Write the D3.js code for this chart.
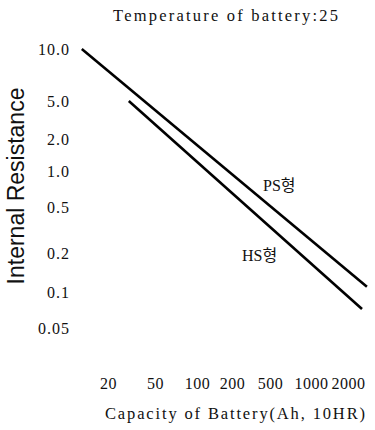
<!DOCTYPE html>
<html>
<head>
<meta charset="utf-8">
<script src="https://cdn.jsdelivr.net/npm/d3@7/dist/d3.min.js"></script>
<style>
  html, body { margin: 0; padding: 0; background: #fff; }
  svg { display: block; }
</style>
</head>
<body>
<svg id="chart" width="375" height="430"></svg>
<script>
// Capacity ticks (Ah, 10HR) and resistance ticks
const capacityTicks = [20, 50, 100, 200, 500, 1000, 2000];
const resistanceTicks = [10, 5, 2, 1, 0.5, 0.2, 0.1, 0.05];
const resistanceLabels = ["10.0", "5.0", "2.0", "1.0", "0.5", "0.2", "0.1", "0.05"];

// Series: endpoints of each straight characteristic line
const psCapacity = [12, 2850];
const psResistance = [10, 0.11];
const hsCapacity = [30, 2600];
const hsResistance = [5, 0.072];

const seriesNames = ["PS형", "HS형"];

const svg = d3.select("#chart");

// The printed scale is a hand-spaced logarithmic grid, so each decade
// segment gets its own span (piecewise log scales).
const x = d3.scaleLog()
  .domain(capacityTicks)
  .range([108, 155, 197, 232, 270, 311, 348]);

const y = d3.scaleLog()
  .domain(resistanceTicks)
  .range([49, 101, 139, 171, 207, 253, 292, 328]);

const serif = "'Liberation Serif', Tinos, 'Times New Roman', 'DejaVu Serif', serif, 'Noto Sans CJK KR'";

// Title (evenly spread serif lettering)
svg.append("text")
  .attr("x", 113).attr("y", 21)
  .attr("textLength", 225)
  .attr("lengthAdjust", "spacing")
  .style("font-family", serif)
  .style("font-size", "16.5px")
  .attr("fill", "#111")
  .text("Temperature of battery:25");

// Y axis (labels only)
const yAxis = svg.append("g")
  .attr("transform", "translate(72,0)")
  .call(d3.axisLeft(y).tickValues(resistanceTicks).tickSize(0).tickPadding(2)
    .tickFormat((d, i) => resistanceLabels[i]));
yAxis.select(".domain").remove();
yAxis.selectAll("text")
  .style("font-family", serif)
  .style("font-size", "16px")
  .style("letter-spacing", "1px")
  .attr("fill", "#111");

// X axis (labels only)
const xAxis = svg.append("g")
  .attr("transform", "translate(0,378)")
  .call(d3.axisBottom(x).tickValues(capacityTicks).tickSize(0).tickPadding(0)
    .tickFormat(d3.format("d")));
xAxis.select(".domain").remove();
xAxis.selectAll("text")
  .style("font-family", serif)
  .style("font-size", "16px")
  .style("letter-spacing", "0.5px")
  .attr("fill", "#111");

// Axis titles
svg.append("text")
  .attr("transform", "translate(24,186) rotate(-90)")
  .attr("text-anchor", "middle")
  .style("font-family", "'Liberation Sans', Arial, sans-serif")
  .style("font-size", "23px")
  .attr("fill", "#111")
  .text("Internal Resistance");

svg.append("text")
  .attr("x", 105).attr("y", 419)
  .attr("textLength", 260)
  .attr("lengthAdjust", "spacing")
  .style("font-family", serif)
  .style("font-size", "16.5px")
  .attr("fill", "#111")
  .text("Capacity of Battery(Ah, 10HR)");

// Lines
const line = d3.line().x(d => x(d[0])).y(d => y(d[1]));
const series = [
  { name: seriesNames[0], pts: d3.zip(psCapacity, psResistance) },
  { name: seriesNames[1], pts: d3.zip(hsCapacity, hsResistance) }
];

svg.selectAll("path.series")
  .data(series)
  .join("path")
  .attr("class", "series")
  .attr("d", d => line(d.pts))
  .attr("fill", "none")
  .attr("stroke", "#000")
  .attr("stroke-width", 2.6);

// Series labels
svg.append("text")
  .attr("x", 263).attr("y", 191)
  .style("font-family", serif)
  .style("font-size", "16px")
  .attr("fill", "#111")
  .text(seriesNames[0]);

svg.append("text")
  .attr("x", 242).attr("y", 261)
  .style("font-family", serif)
  .style("font-size", "16px")
  .attr("fill", "#111")
  .text(seriesNames[1]);
</script>
</body>
</html>
